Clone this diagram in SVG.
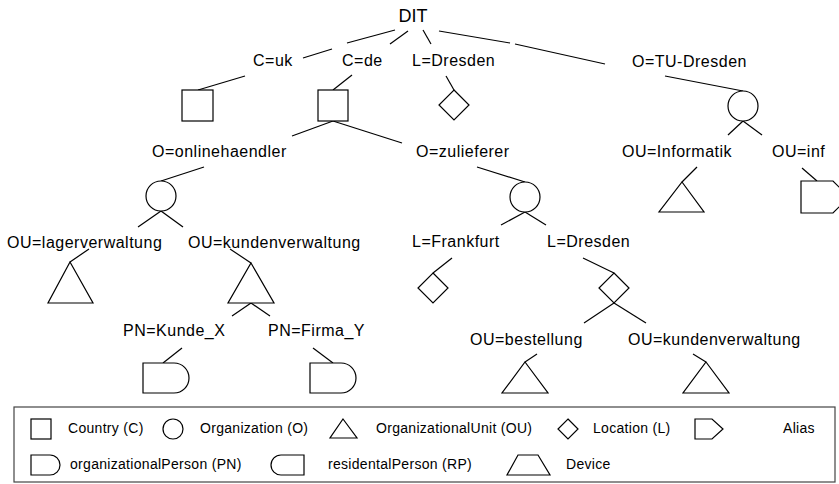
<svg xmlns="http://www.w3.org/2000/svg" width="839" height="484" viewBox="0 0 839 484">
  <style>
    .lbl { font-family: "Liberation Sans", Arial, sans-serif; font-size: 16px; letter-spacing: 0.5px; fill: #000; }
    .root { font-family: "Liberation Sans", Arial, sans-serif; font-size: 18px; fill: #000; }
    .leg { font-family: "Liberation Sans", Arial, sans-serif; font-size: 14px; letter-spacing: 0.3px; fill: #000; }
    .shp { fill: #fff; stroke: #000; stroke-width: 1.2; }
    .edge line { stroke: #000; stroke-width: 1.2; }
    .frame { fill: none; stroke: #444; stroke-width: 1.2; }
  </style>

  <!-- tree edges -->
  <g id="connectors" class="edge">
    <line x1="395" y1="30" x2="347" y2="43"/>
    <line x1="332" y1="49" x2="303" y2="58"/>
    <line x1="408" y1="31" x2="390" y2="44"/>
    <line x1="423" y1="30" x2="431" y2="44"/>
    <line x1="439" y1="31" x2="510" y2="43"/>
    <line x1="515" y1="44" x2="605" y2="64"/>
    <line x1="245" y1="76" x2="198" y2="90"/>
    <line x1="352" y1="75" x2="333" y2="90"/>
    <line x1="446" y1="76" x2="454" y2="90"/>
    <line x1="665" y1="76" x2="743" y2="91"/>
    <line x1="743" y1="121" x2="728" y2="135"/>
    <line x1="743" y1="121" x2="762" y2="135"/>
    <line x1="333" y1="121" x2="292" y2="136"/>
    <line x1="333" y1="121" x2="402" y2="143"/>
    <line x1="204" y1="167" x2="161" y2="181"/>
    <line x1="161" y1="211" x2="138" y2="227"/>
    <line x1="161" y1="211" x2="183" y2="227"/>
    <line x1="89" y1="249" x2="70" y2="262"/>
    <line x1="230" y1="249" x2="251" y2="263"/>
    <line x1="251" y1="303" x2="232" y2="316"/>
    <line x1="251" y1="303" x2="270" y2="316"/>
    <line x1="182" y1="348" x2="163" y2="363"/>
    <line x1="313" y1="348" x2="333" y2="363"/>
    <line x1="477" y1="167" x2="525" y2="182"/>
    <line x1="525" y1="212" x2="501" y2="225"/>
    <line x1="525" y1="212" x2="546" y2="225"/>
    <line x1="452" y1="258" x2="433" y2="273"/>
    <line x1="583" y1="258" x2="614" y2="273"/>
    <line x1="614" y1="303" x2="584" y2="323"/>
    <line x1="614" y1="303" x2="646" y2="323"/>
    <line x1="537" y1="354" x2="525" y2="362"/>
    <line x1="693" y1="354" x2="706" y2="362"/>
    <line x1="697" y1="167" x2="682" y2="182"/>
    <line x1="802" y1="168" x2="817" y2="181"/>
  </g>

  <g id="dit"><text class="root" x="413" y="22" text-anchor="middle">DIT</text></g>

  <g id="c-uk">
    <text class="lbl" x="253" y="66">C=uk</text>
    <rect class="shp" x="182" y="90" width="31" height="31"/>
  </g>
  <g id="c-de">
    <text class="lbl" x="342" y="66">C=de</text>
    <rect class="shp" x="318" y="90" width="30" height="31"/>
  </g>
  <g id="l-dresden">
    <text class="lbl" x="412" y="66">L=Dresden</text>
    <polygon class="shp" points="454,90 469,105 454,120 439,105"/>
  </g>
  <g id="o-tu-dresden">
    <text class="lbl" x="632" y="67">O=TU-Dresden</text>
    <circle class="shp" cx="743" cy="106" r="15"/>
  </g>
  <g id="ou-informatik">
    <text class="lbl" x="622" y="157">OU=Informatik</text>
    <polygon class="shp" points="682,182 704,212 659,212"/>
  </g>
  <g id="ou-inf">
    <text class="lbl" x="772" y="157">OU=inf</text>
    <polygon class="shp" points="801,181 833,181 849,197 833,213 801,213"/>
  </g>
  <g id="o-onlinehaendler">
    <text class="lbl" x="152" y="157">O=onlinehaendler</text>
    <circle class="shp" cx="161" cy="196" r="15"/>
  </g>
  <g id="o-zulieferer">
    <text class="lbl" x="416" y="157">O=zulieferer</text>
    <circle class="shp" cx="525" cy="197" r="15"/>
  </g>
  <g id="ou-lagerverwaltung">
    <text class="lbl" x="7" y="248">OU=lagerverwaltung</text>
    <polygon class="shp" points="70,262 93,303 48,303"/>
  </g>
  <g id="ou-kundenverwaltung-1">
    <text class="lbl" x="188" y="248">OU=kundenverwaltung</text>
    <polygon class="shp" points="251,263 274,303 228,303"/>
  </g>
  <g id="pn-kunde-x">
    <text class="lbl" x="123" y="336">PN=Kunde_X</text>
    <path class="shp" d="M143,363 H174 A15,15 0 0 1 174,393 H143 Z"/>
  </g>
  <g id="pn-firma-y">
    <text class="lbl" x="268" y="336">PN=Firma_Y</text>
    <path class="shp" d="M310,363 H341 A15,15 0 0 1 341,393 H310 Z"/>
  </g>
  <g id="l-frankfurt">
    <text class="lbl" x="412" y="247">L=Frankfurt</text>
    <polygon class="shp" points="433,273 448,288 433,303 418,288"/>
  </g>
  <g id="l-dresden-2">
    <text class="lbl" x="547" y="247">L=Dresden</text>
    <polygon class="shp" points="614,273 629,288 614,303 599,288"/>
  </g>
  <g id="ou-bestellung">
    <text class="lbl" x="470" y="345">OU=bestellung</text>
    <polygon class="shp" points="525,362 548,393 502,393"/>
  </g>
  <g id="ou-kundenverwaltung-2">
    <text class="lbl" x="628" y="345">OU=kundenverwaltung</text>
    <polygon class="shp" points="706,362 729,393 683,393"/>
  </g>

  <!-- legend -->
  <g id="legend">
    <rect class="frame" x="14" y="407" width="821" height="75"/>
    <rect class="shp" x="31" y="419" width="20" height="20"/>
    <text class="leg" x="68" y="433">Country (C)</text>
    <circle class="shp" cx="173" cy="429" r="10"/>
    <text class="leg" x="200" y="433">Organization (O)</text>
    <polygon class="shp" points="343,419 357,438 330,438"/>
    <text class="leg" x="376" y="433">OrganizationalUnit (OU)</text>
    <polygon class="shp" points="568,419 578,429 568,439 558,429"/>
    <text class="leg" x="593" y="433">Location (L)</text>
    <polygon class="shp" points="695,419 712,419 723,429 712,439 695,439"/>
    <text class="leg" x="783" y="433">Alias</text>

    <path class="shp" d="M31,455 H50 A10,10 0 0 1 50,475 H31 Z"/>
    <text class="leg" x="70" y="469">organizationalPerson (PN)</text>
    <path class="shp" d="M281,455 H304 V475 H281 A10,10 0 0 1 281,455 Z"/>
    <text class="leg" x="328" y="469">residentalPerson (RP)</text>
    <polygon class="shp" points="518,455 538,455 550,475 507,475"/>
    <text class="leg" x="566" y="469">Device</text>
  </g>
</svg>
